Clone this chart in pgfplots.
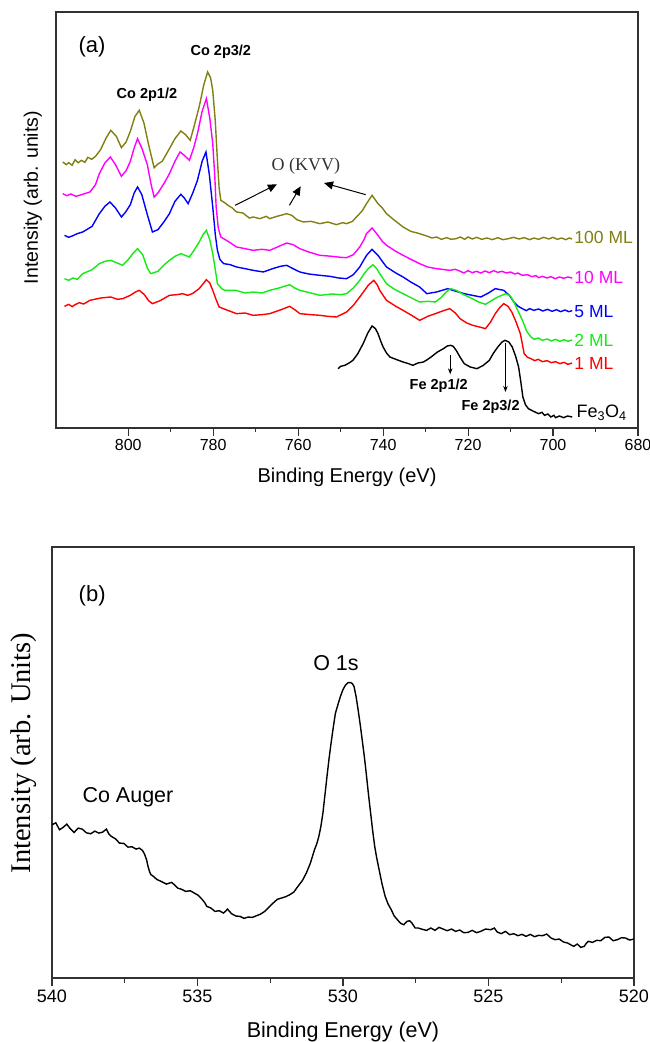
\documentclass[border=0pt]{standalone}
\usepackage{fontspec}
\setmainfont{Liberation Sans}
\newfontfamily\timesfont{Liberation Serif}
\usepackage{pgfplots}
\pgfplotsset{compat=1.18}
\usetikzlibrary{arrows.meta}
\definecolor{cOlive}{RGB}{128,128,16}
\definecolor{cMag}{RGB}{255,0,255}
\definecolor{cBlue}{RGB}{0,0,255}
\definecolor{cGreen}{RGB}{20,235,20}
\definecolor{cRed}{RGB}{255,0,0}
\definecolor{cAx}{RGB}{50,50,50}
\newcommand{\fs}[1]{\fontsize{#1}{#1}\selectfont}
\pgfplotsset{
  myax/.style={
    scale only axis, anchor=south west,
    x dir=reverse, ytick=\empty, xtick pos=left,
    tick align=outside,
    axis line style={line width=1.2pt, cAx},
    every tick/.style={line width=1.1pt, cAx},
    major tick length=8pt, minor tick length=4.5pt,
    minor x tick num=1,
    /pgf/number format/assume math mode=true,
    clip=true,
  }
}
\begin{document}
\begin{tikzpicture}
\path[use as bounding box] (0,0) rectangle (650pt,1042pt);
% ---------------- panel (a)
\begin{axis}[myax,
  at={(56pt,614pt)}, width=582pt, height=416pt,
  xmin=680, xmax=817, ymin=0, ymax=1248,
  xtick={680,700,...,800},
  xticklabel style={font=\fs{16}},
  xlabel={Binding Energy (eV)},
  xlabel style={font=\fs{20}, at={(axis description cs:0.5,-0.118)}, anchor=center},
  ylabel={Intensity (arb. units)},
  ylabel style={font=\fs{19.5}, at={(axis description cs:-0.04,0.554)}, anchor=center, rotate=0},
]
\addplot[cOlive, line width=1.4pt] coordinates {(815.4,798)(814.6,790)(814,796)(813.2,788)(812.5,805)(811.8,796)(811,803)(810.2,797)(809.5,812)(808.6,806)(807.7,815)(806.5,835)(805.2,870)(804.1,893)(802.8,875)(801.6,841)(800.5,858)(799.5,890)(798.4,935)(797.4,953)(796.3,915)(795.2,850)(793.9,781)(793,792)(792,800)(791,822)(790.3,838)(789,868)(787.6,891)(786.5,880)(785.4,863)(784.6,900)(783.3,963)(782.2,1030)(781.3,1068)(780.6,1050)(780.1,1013)(779.5,920)(779.0,803)(778.6,720)(778.2,683)(777.2,675)(776.5,668)(775.5,660)(774.5,648)(773,645)(771.5,630)(770.6,633)(769,628)(767.5,635)(766.7,628)(765,635)(763.5,640)(762.7,643)(761.5,638)(760.3,625)(758.8,618)(757,620)(754.9,613)(753,618)(751,610)(749.5,616)(748.6,613)(747.2,620)(746.3,633)(745,650)(743.9,673)(742.6,698)(741.2,673)(740.2,660)(739.2,643)(737.5,625)(735.3,603)(733.5,590)(731.4,583)(729.5,575)(728.5,570)(727.4,573)(726.3,566)(725,571)(724,566)(722.8,568)(721.8,573)(720.8,566)(720,573)(719,567)(718,572)(716.8,566)(715.5,570)(714.3,565)(713,571)(711.8,565)(710.5,568)(709.3,572)(708,567)(706.8,571)(705.5,565)(704.5,570)(703.4,566)(702.2,572)(701,567)(700,572)(699,566)(698,570)(697,565)(696.2,570)(695.5,567)};
\addplot[cMag, line width=1.4pt] coordinates {(815.4,703)(814.5,697)(813.5,702)(812.3,695)(811,700)(810,704)(809,708)(807.7,730)(806.8,763)(805.5,795)(804.2,813)(803,790)(801.6,755)(800.5,772)(799.5,800)(798.6,840)(797.8,868)(796.8,840)(795.5,790)(794.6,730)(793.9,693)(793,705)(791.5,735)(790.3,763)(789,800)(787.8,828)(786.8,818)(785.6,803)(784.6,840)(783.7,883)(782.6,950)(781.6,988)(780.8,930)(780.1,853)(779.6,750)(779.3,663)(778.8,600)(778.2,573)(776.5,560)(774.5,543)(772.5,538)(770.6,533)(768.5,536)(766.7,533)(764.5,545)(762.7,555)(761.2,550)(759.6,538)(757.5,528)(754.9,518)(752,515)(750,512)(748.6,511)(747,520)(745.5,543)(744.5,565)(743.9,583)(742.6,600)(741.2,578)(740.2,560)(739.2,548)(737,530)(735.3,518)(733,503)(731.4,493)(729.5,483)(727.4,478)(725.5,475)(724.3,473)(723,476)(722,471)(721,465)(720,472)(719,466)(718,470)(717,465)(716,471)(715,466)(714,472)(713,467)(712,470)(711,465)(710,468)(709,462)(708.3,465)(707.2,458)(706,460)(705,454)(704,457)(703.4,451)(702.5,455)(701.5,450)(700.5,454)(699.5,448)(698.5,453)(697.5,449)(696.5,453)(695.5,450)};
\addplot[cBlue, line width=1.4pt] coordinates {(815,578)(814,572)(813,577)(812,583)(810.7,588)(808.5,605)(806.8,643)(805.5,665)(804.3,678)(803,660)(801.6,633)(800.6,648)(799.5,670)(798.6,705)(797.8,723)(796.8,700)(795.5,640)(794.3,588)(793,595)(791.5,620)(790.3,643)(789,680)(787.6,701)(786.8,690)(785.9,673)(784.8,705)(783.7,743)(782.6,800)(781.7,828)(780.9,760)(780.1,663)(779.5,580)(779,533)(778.4,505)(777.5,493)(776,490)(774.5,483)(772.5,478)(770.6,473)(768.2,468)(766,478)(764.2,485)(762.7,488)(761.2,478)(759.6,468)(757.5,462)(754.9,458)(752.5,455)(750.5,450)(748.6,448)(747,460)(745.5,483)(744.5,505)(743.9,518)(742.6,536)(741.2,518)(740.2,500)(739.2,483)(737,465)(735.3,453)(733.5,438)(731.4,423)(729.7,403)(727.4,408)(724.8,418)(722.8,410)(720.9,403)(719,398)(717,393)(715.2,405)(713.6,418)(711.6,413)(710.3,398)(709.2,378)(708.2,365)(707.2,358)(706.3,352)(705.5,358)(704.5,353)(703.4,357)(702.4,351)(701.3,356)(700.2,350)(699.2,355)(698.2,349)(697.2,354)(696.3,349)(695.5,352)};
\addplot[cGreen, line width=1.4pt] coordinates {(815,448)(814,443)(813,450)(812,446)(810.7,463)(808.5,475)(806.8,493)(805.5,500)(804.1,503)(802.6,495)(801.3,488)(800,505)(798.8,525)(797.8,538)(796.6,520)(795.5,480)(794.7,463)(793,470)(791.5,490)(790.3,503)(789,515)(787.6,523)(786.6,518)(785.6,513)(784.4,535)(783.3,558)(782.4,580)(781.6,593)(780.8,565)(780.1,523)(779.5,475)(779,433)(778,418)(777.3,413)(774.7,413)(772.5,405)(770.6,408)(768.5,405)(766.7,413)(764.5,420)(762,430)(760.8,420)(759.6,413)(757,405)(754.9,398)(752,402)(750,400)(748.6,403)(747,420)(745.5,443)(744.5,462)(743.5,478)(742.4,490)(741.5,478)(740.8,463)(739.2,433)(737.2,415)(735.3,403)(733.3,390)(731.4,378)(729.5,380)(727.7,378)(726.3,392)(725,410)(724.1,418)(722.8,413)(721,400)(719,388)(717.5,378)(715.9,371)(714.5,382)(713,393)(711.1,403)(710,395)(709.2,378)(708.2,350)(707.2,323)(706.2,290)(705.2,273)(704.4,266)(703.5,270)(702.5,263)(701.4,267)(700.4,261)(699.4,266)(698.4,260)(697.4,265)(696.5,260)(695.5,264)};
\addplot[cRed, line width=1.4pt] coordinates {(815,365)(814,371)(813.2,364)(812.5,370)(811.5,376)(810.5,372)(809,383)(806.5,390)(804.1,393)(802.5,386)(801.3,388)(799.5,398)(798.3,408)(797.4,413)(796.2,400)(795.2,382)(794.3,373)(792.5,382)(790.3,398)(788.5,400)(787.2,403)(786,398)(784.9,403)(783.3,418)(782.4,432)(781.6,445)(780.8,435)(780.1,413)(779.3,385)(778.6,363)(777,355)(774.5,343)(772.5,345)(770.6,338)(768.5,340)(766.7,343)(764,355)(762,365)(760.8,355)(759.6,343)(757,340)(754.9,338)(753,335)(751,333)(748.6,348)(747,368)(745.5,393)(743.5,428)(742.2,443)(741.4,430)(740.8,413)(739.2,383)(737,365)(735.3,353)(733.3,338)(731.4,323)(729.5,335)(727.7,343)(725.8,352)(724.3,358)(723,345)(721.9,328)(720.3,315)(718.9,308)(717.3,303)(715.9,298)(714.7,318)(713.6,343)(712.5,362)(711.6,373)(710.6,365)(709.7,348)(708.7,318)(707.7,283)(707.2,250)(706.8,223)(706,212)(705.2,208)(704.3,202)(703.5,206)(702.5,199)(701.4,202)(700.4,196)(699.4,199)(698.4,193)(697.4,197)(696.5,191)(695.5,195)};
\addplot[black, line width=1.4pt] coordinates {(750.6,178)(750,185)(749,188)(748,195)(747.1,203)(746,222)(744.7,253)(743.6,285)(742.6,306)(741.8,298)(741.2,283)(740.6,262)(740,243)(739.2,225)(738.4,213)(736.8,205)(735.3,198)(734,193)(733,188)(731.8,195)(730.5,198)(729.6,205)(728.7,213)(727.2,228)(725.8,238)(724.9,246)(724.1,248)(723.5,245)(722.8,233)(721.9,213)(720.9,193)(719.5,183)(717.9,178)(716.4,188)(715,203)(714,225)(713,243)(712,258)(711.3,263)(710.4,258)(709.6,243)(708.8,215)(708.1,183)(707.6,140)(707.1,93)(706.5,70)(705.8,58)(704.6,50)(703.4,43)(702.6,47)(702,38)(701.2,42)(700.5,33)(699.8,38)(699.4,31)(698.5,36)(697.5,31)(696.6,36)(695.5,33)};
% annotations
\node[font=\fs{22}] at (axis description cs:0.062,0.916) {(a)};
\node[font=\fs{14.5}\bfseries] at (axis cs:778.2,1130) {Co 2p3/2};
\node[font=\fs{14.5}\bfseries] at (axis cs:795.6,1001) {Co 2p1/2};
\node[font=\fs{18}\timesfont, text=cAx] at (axis cs:758.2,785) {O (KVV)};
\draw[-{Triangle[length=9pt,width=8pt]}, line width=1pt] (axis cs:774.85,668) -- (axis cs:765.0,731);
\draw[-{Triangle[length=9pt,width=8pt]}, line width=1pt] (axis cs:762.06,668) -- (axis cs:759.4,725);
\draw[-{Triangle[length=9pt,width=8pt]}, line width=1pt] (axis cs:744.1,700) -- (axis cs:753.9,735);
\draw[-{Stealth[length=6pt,width=4.5pt]}, line width=0.8pt] (axis cs:724.2,218) -- (axis cs:724.2,161);
\draw[-{Stealth[length=6pt,width=4.5pt]}, line width=0.8pt] (axis cs:711.2,254) -- (axis cs:711.2,108);
\node[font=\fs{14.5}\bfseries] at (axis cs:726.9,128) {Fe 2p1/2};
\node[font=\fs{14.5}\bfseries] at (axis cs:714.7,65) {Fe 2p3/2};
\node[anchor=west, inner sep=0pt, font=\fs{17.5}, text=cOlive] at (axis cs:695,571) {100 ML};
\node[anchor=west, inner sep=0pt, font=\fs{17.5}, text=cMag] at (axis cs:695,451) {10 ML};
\node[anchor=west, inner sep=0pt, font=\fs{17.5}, text=cBlue] at (axis cs:695,348) {5 ML};
\node[anchor=west, inner sep=0pt, font=\fs{17.5}, text=cGreen] at (axis cs:695,263) {2 ML};
\node[anchor=west, inner sep=0pt, font=\fs{17.5}, text=cRed] at (axis cs:695,193) {1 ML};
\node[anchor=west, inner sep=0pt, font=\fs{18}, text=black] at (axis cs:694.5,45) {Fe\textsubscript{3}O\textsubscript{4}};
\end{axis}
% ---------------- panel (b)
\begin{axis}[myax,
  at={(52pt,64pt)}, width=582pt, height=431pt,
  xmin=520, xmax=540, ymin=0, ymax=1294,
  xtick={520,525,530,535,540},
  xticklabel style={font=\fs{18}},
  xlabel={Binding Energy (eV)},
  xlabel style={font=\fs{21.5}, at={(axis description cs:0.5,-0.125)}, anchor=center},
  ylabel={\timesfont Intensity (arb. Units)},
  ylabel style={font=\fs{28.5}, at={(axis description cs:-0.048,0.522)}, anchor=center, rotate=0},
]
\addplot[black, line width=1.4pt] coordinates {(540.00,460)(539.87,466)(539.74,445)(539.62,452)(539.49,462)(539.37,448)(539.24,437)(539.10,450)(538.96,447)(538.82,436)(538.67,433)(538.53,441)(538.39,435)(538.26,438)(538.13,447)(538.05,433)(537.96,425)(537.82,418)(537.68,405)(537.53,404)(537.39,393)(537.25,394)(537.11,387)(537.00,390)(536.89,383)(536.82,372)(536.75,355)(536.70,335)(536.65,320)(536.60,310)(536.54,307)(536.40,296)(536.25,290)(536.07,282)(535.89,287)(535.78,279)(535.68,270)(535.54,266)(535.40,260)(535.25,262)(535.11,255)(534.97,248)(534.83,235)(534.75,226)(534.68,215)(534.54,210)(534.40,200)(534.25,202)(534.11,195)(534.04,200)(533.97,207)(533.90,200)(533.83,193)(533.68,186)(533.54,185)(533.40,179)(533.26,183)(533.11,182)(532.97,187)(532.83,192)(532.69,200)(532.55,212)(532.40,225)(532.26,236)(532.12,240)(531.97,244)(531.83,250)(531.69,258)(531.55,275)(531.40,292)(531.26,315)(531.12,345)(530.98,385)(530.90,403)(530.83,425)(530.76,455)(530.69,495)(530.62,550)(530.55,605)(530.48,658)(530.41,705)(530.33,755)(530.26,795)(530.17,822)(530.09,845)(530.00,866)(529.91,880)(529.82,887)(529.74,887)(529.68,884)(529.62,875)(529.55,845)(529.48,805)(529.41,762)(529.34,715)(529.26,660)(529.19,605)(529.12,548)(529.05,495)(528.98,442)(528.91,395)(528.84,360)(528.77,330)(528.66,283)(528.55,245)(528.45,222)(528.34,205)(528.24,186)(528.13,175)(528.02,164)(527.91,160)(527.80,170)(527.71,172)(527.63,165)(527.52,150)(527.41,150)(527.27,146)(527.13,143)(526.98,150)(526.84,143)(526.70,152)(526.56,147)(526.42,142)(526.27,147)(526.13,140)(525.99,144)(525.85,136)(525.70,137)(525.56,143)(525.41,136)(525.27,140)(525.10,147)(524.92,145)(524.80,150)(524.70,138)(524.56,133)(524.42,140)(524.27,130)(524.13,133)(523.99,127)(523.85,131)(523.71,125)(523.56,131)(523.42,124)(523.28,128)(523.14,127)(523.00,132)(522.85,120)(522.71,115)(522.57,117)(522.42,108)(522.28,105)(522.18,100)(522.07,95)(521.95,102)(521.83,92)(521.71,95)(521.64,104)(521.57,110)(521.43,107)(521.28,113)(521.14,112)(521.00,122)(520.86,123)(520.72,112)(520.57,115)(520.43,121)(520.29,120)(520.15,114)(520.00,117)};
\node[font=\fs{22}] at (axis description cs:0.069,0.886) {(b)};
\node[font=\fs{21.5}] at (axis cs:530.24,945) {O 1s};
\node[font=\fs{21.5}] at (axis cs:537.39,543) {Co Auger};
\end{axis}
\end{tikzpicture}
\end{document}
